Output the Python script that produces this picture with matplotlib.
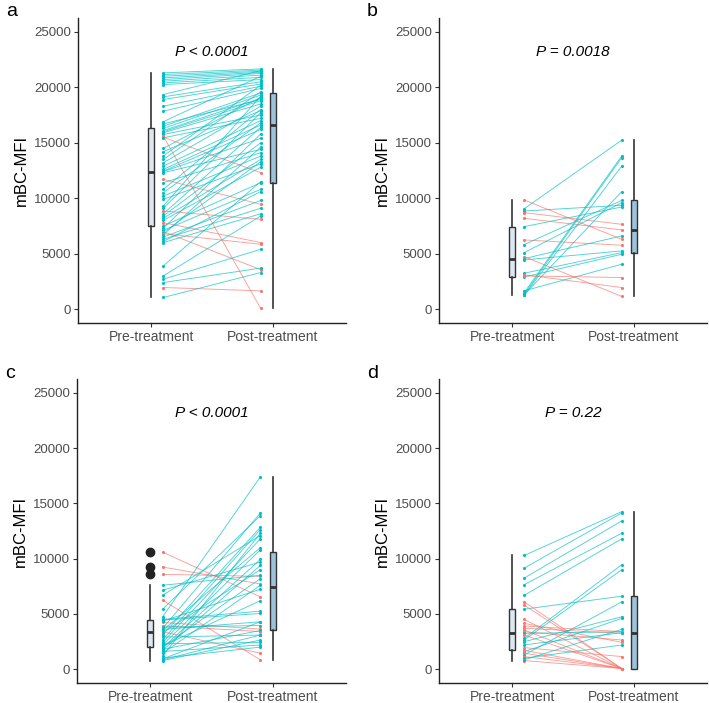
import matplotlib
matplotlib.use("Agg")
import matplotlib.pyplot as plt
import numpy as np

plt.rcParams["font.family"] = ["Liberation Sans", "DejaVu Sans"]

# ---------------- data ----------------
a_pre = [21300, 21150, 21000, 20850, 20700, 20550, 20400, 20250, 19350, 19140, 18900, 18300,
         17850, 16900, 16700, 16500, 16300, 16100, 16000, 15900, 15750, 15600, 15500, 15450,
         14500, 14200, 13800, 13500, 13200, 12900, 12600, 12450, 12400, 12300, 11700, 11400,
         10800, 10500, 10200, 9900, 9300, 9100, 8850, 8600, 8400, 8200, 8000, 7800, 7500, 7300,
         7100, 7000, 6900, 6800, 6700, 6500, 6300, 6100, 6000, 3900, 3000, 2700, 2400, 1950, 1050]
a_post = [21660, 21550, 21450, 21350, 21250, 21100, 20900, 20700, 21500, 20500, 20300, 20100,
          19900, 21000, 18900, 19500, 19300, 19000, 18800, 18500, 17500, 60, 12300, 17200,
          19100, 17900, 20200, 19600, 18300, 17000, 16600, 16200, 15400, 14400, 9450, 14100,
          18000, 16800, 13800, 13100, 19200, 17700, 8100, 16400, 15000, 13500, 12800, 6000,
          11400, 15800, 10800, 3550, 13300, 5850, 14600, 9800, 9100, 10600, 8600, 11500, 8400,
          5400, 3700, 1650, 3300]

b_pre = [9840, 9060, 8850, 8700, 8190, 7440, 6240, 5820, 5100, 4740, 4560, 4440, 3240,
         3100, 2900, 1650, 1500, 1350, 1300, 1260, 3000]
b_post = [6300, 15240, 9360, 7650, 7140, 9210, 5760, 9810, 9600, 1140, 6600, 5250, 5100,
          1950, 4950, 4050, 13800, 13650, 10590, 12900, 2850]

c_pre = [10590, 9240, 8580, 7590, 7140, 6690, 6240, 5430, 4740, 4440, 4230, 3930, 3690,
         3390, 3090, 2640, 2430, 2190, 1950, 1710, 1440, 930, 780, 4500, 4350, 3800, 3600,
         3500, 3300, 2900, 2300, 2000, 1800, 1600, 2100, 1200, 1000, 850]
c_post = [6540, 7710, 8400, 8490, 9690, 12090, 840, 13890, 17400, 5040, 3630, 3400, 14130,
          1440, 12840, 12630, 11790, 10800, 9930, 9390, 7590, 4290, 2640, 5250, 7230, 3950,
          4290, 11000, 9000, 3090, 2430, 8200, 3500, 2190, 6200, 12300, 2000, 3090]

d_pre = [10290, 9150, 8250, 7650, 6690, 5430, 6090, 5790, 4140, 3700, 3540, 3390, 3240,
         3090, 2790, 2640, 2490, 1950, 1590, 1440, 1290, 1140, 990, 780, 4500, 3900, 2200,
         1700, 850]
d_post = [14250, 14130, 13410, 12300, 11790, 6600, 60, 60, 2430, 3250, 60, 2640, 3390,
          60, 9450, 9000, 4740, 1140, 4590, 60, 6090, 60, 2190, 60, 60, 3400, 3300,
          60, 3600]

panels = [("a", a_pre, a_post, "P < 0.0001"),
          ("b", b_pre, b_post, "P = 0.0018"),
          ("c", c_pre, c_post, "P < 0.0001"),
          ("d", d_pre, d_post, "P = 0.22")]
groups = ["Pre-treatment", "Post-treatment"]
yticks = [0, 5000, 10000, 15000, 20000, 25000]

TEAL = "#00BFC4"
RED = "#F8766D"

# ---------------- figure ----------------
W, H = 709, 703
fig = plt.figure(figsize=(W / 100, H / 100), dpi=100)
axes_px = [(78, 18, 346, 323), (439, 18, 707, 323), (77, 379, 346, 683), (439, 379, 707, 683)]

for (lab, pre, post, ptxt), (x0, y0, x1, y1) in zip(panels, axes_px):
    ax = fig.add_axes([x0 / W, 1 - y1 / H, (x1 - x0) / W, (y1 - y0) / H])
    pre = np.array(pre, float)
    post = np.array(post, float)
    for p, q in zip(pre, post):
        col = TEAL if q > p else RED
        ax.plot([1.1, 1.9], [p, q], color=col, lw=0.65, alpha=0.7, zorder=2)
        ax.scatter([1.1, 1.9], [p, q], s=5, color=col, zorder=3, linewidths=0)
    bp = ax.boxplot([pre, post], positions=[1, 2], widths=0.05, patch_artist=True,
                    showcaps=False, whis=1.5, zorder=4,
                    medianprops=dict(color="#333333", lw=2.0),
                    whiskerprops=dict(color="#333333", lw=1.2),
                    boxprops=dict(edgecolor="#333333", lw=1.0),
                    flierprops=dict(marker="o", markerfacecolor="#222222",
                                    markeredgecolor="#222222", markersize=6))
    bp["boxes"][0].set_facecolor("#DCE7F2")
    bp["boxes"][1].set_facecolor("#9DC3DA")
    ax.set_xlim(0.4, 2.6)
    ax.set_ylim(-1250, 26250)
    ax.set_xticks([1, 2])
    ax.set_xticklabels(groups, fontsize=10, color="#4D4D4D")
    ax.set_yticks(yticks)
    ax.set_yticklabels([str(v) for v in yticks], fontsize=9.5, color="#4D4D4D")
    ax.tick_params(length=3, width=0.8, color="#333333", pad=2)
    for s in ["top", "right"]:
        ax.spines[s].set_visible(False)
    for s in ["left", "bottom"]:
        ax.spines[s].set_linewidth(1.0)
        ax.spines[s].set_color("#222222")
    ax.set_ylabel("mBC-MFI", fontsize=12, labelpad=4)
    ax.text(1.5, 23200, ptxt, fontsize=11, style="italic", ha="center", va="center")
    fig.text((x0 - 72) / W, 1 - (y0 - 6) / H, lab, fontsize=14, ha="left", va="center")

fig.savefig("out.png", dpi=100)
